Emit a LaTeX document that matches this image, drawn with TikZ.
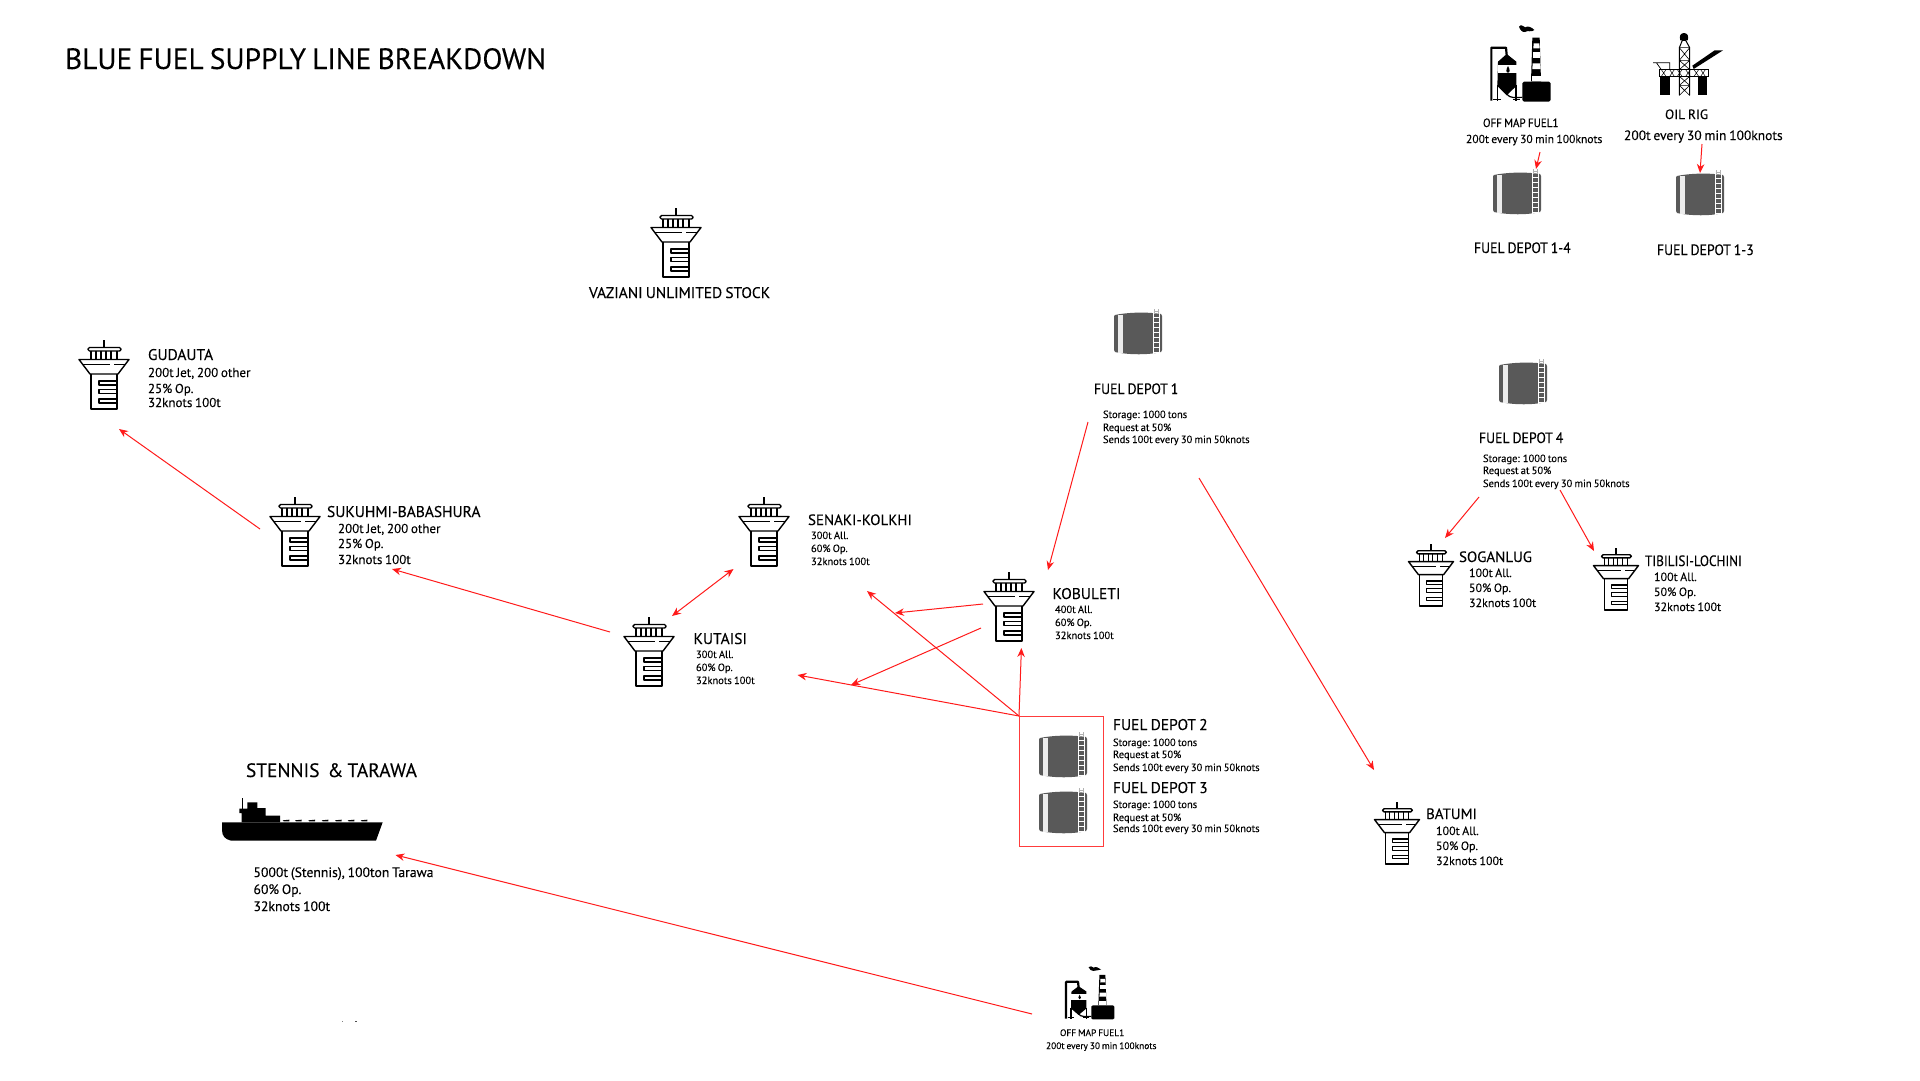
\documentclass[tikz,border=0pt]{standalone}
\usepackage{fontspec}
\setmainfont[WordSpace=0.78,FakeBold=0.12]{PT Sans}
\usetikzlibrary{arrows.meta}
\definecolor{tankgray}{HTML}{595959}
\definecolor{flowred}{HTML}{FF1A1A}
\newcommand{\lbl}[5]{\node[txt,font=\fontsize{#4}{#4}\selectfont] (#1) at (#2,#3) {#5};}
\newcommand{\nar}[1]{{\addfontfeature{FakeStretch=0.92}#1}}
\newcommand{\narr}[1]{{\addfontfeature{FakeStretch=0.88}#1}}
\tikzset{
  txt/.style={anchor=base west,inner sep=0pt,outer sep=0pt,text=black},
  flow/.style={draw=flowred,line width=1pt,-{Stealth[length=9pt,width=7.5pt]}},
  flowboth/.style={draw=flowred,line width=1pt,{Stealth[length=9pt,width=7.5pt]}-{Stealth[length=9pt,width=7.5pt]}},
  towericon/.pic={
    \begin{scope}[line width=1.2pt,line join=round]
      \draw (0,0)--(0,7);
      \draw[rounded corners=1.5pt,line width=1.4pt] (-16,7.5) rectangle (17,11);
      \draw (-13,11)--(-13,19) (13,11)--(13,19) (-8,11)--(-8,19) (-3,11)--(-3,19) (2,11)--(2,19) (7,11)--(7,19);
      \draw[line width=1.4pt] (-25,19.5)--(25,19.5)--(14,34)--(-14,34)--cycle;
      \draw[line width=0.9pt] (-21,24.5)--(6,24.5) (10,24.5)--(21,24.5);
      \draw[line width=1.4pt] (-13,34)--(-13,69)--(13,69)--(13,34);
      \draw (13,41)--(-5,41)--(-5,45)--(13,45);
      \draw (13,49.5)--(-5,49.5)--(-5,53.5)--(13,53.5);
      \draw (13,59)--(-5,59)--(-5,63)--(13,63);
    \end{scope}
  },
  tankicon/.pic={
    \fill[tankgray] (1,3) .. controls (15,0) and (35,0) .. (47,2) -- (48,4) -- (48,38) -- (47,40) .. controls (35,43) and (15,43) .. (1,40) -- (0,38) -- (0,4) -- cycle;
    \fill[gray!15] (3.5,2.5) rectangle (8.5,40.5);
    \draw[white,line width=0.9pt] (39.5,1) -- (39.5,42) (45,1) -- (45,42);
    \foreach \yy in {5,10,15,20,25,30,35,40} {\draw[white,line width=1pt] (39.5,\yy) -- (45,\yy);}
    \draw[gray!60,line width=0.9pt] (40,-3) -- (40,2) (44.5,-3) -- (44.5,2) (40,-1) -- (44.5,-1);
  },
  refineryicon/.pic={
    \begin{scope}[shift={(-150,-45)}]
      \draw[line width=2.2pt,line join=round] (154,272) -- (154,113) -- (198,113) -- (200,135);
      \fill (200,132) -- (174,155) -- (172,228) -- (200,256) -- (229,228) -- (229,155) -- cycle;
      \fill[white] (173,166) rectangle (230,190);
      \fill (204,168) .. controls (198,178) and (197,188) .. (204,188) .. controls (211,188) and (210,178) .. (204,168) -- cycle;
      \draw[line width=1.2pt] (172,225) -- (172,272) (228,225) -- (228,272) (160,268) -- (182,268) (218,268) -- (240,268);
      \draw[line width=1.2pt] (200,252) .. controls (210,266) and (225,262) .. (247,262);
      \fill (277,83) -- (299,83) -- (303,214) -- (273,214) -- cycle;
      \fill[white] (281,100) -- (298,100) -- (299,115) -- (280,115) -- cycle;
      \fill[white] (279,127) -- (300,127) -- (300,143) -- (279,143) -- cycle;
      \fill[white] (278,160) -- (301,160) -- (302,177) -- (277,177) -- cycle;
      \fill[white] (276,197) -- (302,197) -- (302,212) -- (276,212) -- cycle;
      \fill (252,215) -- (327,215) -- (332,220) -- (332,270) -- (327,275) -- (252,275) -- (247,270) -- (247,220) -- cycle;
      \fill (237,50) .. controls (242,42) and (250,48) .. (256,52) .. controls (262,46) and (276,52) .. (283,60) .. controls (275,68) and (262,60) .. (255,66) .. controls (248,68) and (240,60) .. (237,50) -- cycle;
    \end{scope}
  },
  rigicon/.pic={
    \begin{scope}[shift={(-640,-68)}]
      \fill (733,68) .. controls (722,68) and (718,78) .. (722,90) -- (744,90) .. controls (748,78) and (744,68) .. (733,68) -- cycle;
      \draw[line width=1pt] (719,255) -- (719,112) -- (728,90) -- (738,90) -- (750,112) -- (750,255);
      \draw[line width=0.6pt] (719,112) -- (750,112) (719,112) -- (750,150) (750,112) -- (719,150) (719,150) -- (750,150) (719,150) -- (750,178) (750,150) -- (719,178) (719,198) -- (750,225) (750,198) -- (719,225) (719,225) -- (750,255) (750,225) -- (719,255) (719,225) -- (750,225);
      \fill (762,176) -- (850,120) -- (825,120) -- (758,166) -- cycle;
      \draw[line width=0.7pt] (640,157) -- (690,157) -- (690,178) (650,157) -- (665,178);
      \draw[line width=0.9pt] (660,178) rectangle (805,198);
      \foreach \xx in {672,697,720,745,770,790} {\draw[line width=0.5pt] (\xx-7,178) -- (\xx+7,198) (\xx+7,178) -- (\xx-7,198);}
      \fill (662,198) rectangle (690,255);
      \fill (775,198) rectangle (803,255);
    \end{scope}
  },
  shipicon/.pic={
    \begin{scope}[shift={(-66,-55)}]
      \fill (66,128) -- (548,128) -- (528,183) -- (93,183) .. controls (75,178) and (66,170) .. (66,150) -- cycle;
      \fill (125,128) -- (125,100) -- (118,100) -- (118,87) -- (142,87) -- (142,68) -- (172,68) -- (172,85) -- (197,85) -- (197,108) -- (240,108) -- (240,128) -- cycle;
      \draw[line width=0.6pt] (128,55) -- (128,100);
      \foreach \xx in {248,285,325,365,405,443,482} {\fill (\xx,122) -- (\xx+20,120) -- (\xx+20,125) -- (\xx+3,125) -- cycle;}
    \end{scope}
  }
}
\begin{document}
\begin{tikzpicture}[x=1pt,y=-1pt]
\useasboundingbox (0,0) rectangle (1920,1080);
% towers
\foreach \tx/\ty in {104/340,676/208,295/497,764/497,649/617,1009/572}{
  \pic at (\tx,\ty) {towericon};
}
\foreach \tx/\ty in {1431/544,1616/548,1397/802}{
  \pic[scale=0.9] at (\tx,\ty) {towericon};
}
% tanks
\foreach \tx/\ty in {1114/312,1499/362,1493/172,1676/173,1039/735,1039/791}{
  \pic at (\tx,\ty) {tankicon};
}
\pic[scale=1/3] at (1490,25) {refineryicon};
\pic[xscale=0.271,yscale=0.232] at (1065,966) {refineryicon};
\pic[scale=1/3] at (1653,33) {rigicon};
\pic[scale=1/3] at (222,798) {shipicon};
% specks
\fill[gray] (341.5,1020.5) rectangle (343,1022);
\fill[black!70] (355,1020.5) rectangle (357,1022);
% texts
\lbl{title}{65}{69}{29.4}{BLUE FUEL SUPPLY LINE BREAKDOWN}
\lbl{vaz}{589}{298}{15.4}{VAZIANI UNLIMITED STOCK}
\lbl{gud}{148}{360}{15.5}{GUDAUTA}
\lbl{gudb}{148}{377}{13}{200t Jet, 200 other}
\lbl{gudc}{148}{393}{13}{25\% Op.}
\lbl{gudd}{148}{407}{13}{32knots 100t}
\lbl{suk}{327}{517}{15.5}{SUKUHMI-BABASHURA}
\lbl{sukb}{338}{533}{13}{200t Jet, 200 other}
\lbl{sukc}{338}{548}{13}{25\% Op.}
\lbl{sukd}{338}{564}{13}{32knots 100t}
\lbl{sen}{808}{525}{15}{SENAKI-KOLKHI}
\lbl{senb}{811}{539}{10.5}{300t All.}
\lbl{senc}{811}{552}{10.5}{60\% Op.}
\lbl{send}{811}{565}{10.5}{32knots 100t}
\lbl{kut}{693.5}{644}{15.5}{KUTAISI}
\lbl{kutb}{696}{658}{10.5}{300t All.}
\lbl{kutc}{696}{671}{10.5}{60\% Op.}
\lbl{kutd}{696}{684}{10.5}{32knots 100t}
\lbl{kob}{1052.5}{599}{15.5}{KOBULETI}
\lbl{kobb}{1055}{613}{10.5}{400t All.}
\lbl{kobc}{1055}{626}{10.5}{60\% Op.}
\lbl{kobd}{1055}{639}{10.5}{32knots 100t}
\lbl{dtwo}{1113}{730}{15.5}{FUEL DEPOT 2}
\lbl{dtwob}{1113}{746}{10.5}{Storage: 1000 tons}
\lbl{dtwoc}{1113}{758}{10.5}{Request at 50\%}
\lbl{dtwod}{1113}{771}{10.5}{Sends 100t every 30 min 50knots}
\lbl{dthree}{1113}{793}{15.5}{FUEL DEPOT 3}
\lbl{dthreeb}{1113}{808}{10.5}{Storage: 1000 tons}
\lbl{dthreec}{1113}{821}{10.5}{Request at 50\%}
\lbl{dthreed}{1113}{832}{10.5}{Sends 100t every 30 min 50knots}
\lbl{done}{1094}{394}{15}{\nar{FUEL DEPOT 1}}
\lbl{doneb}{1103}{418}{10.5}{Storage: 1000 tons}
\lbl{donec}{1103}{431}{10.5}{Request at 50\%}
\lbl{doned}{1103}{443}{10.5}{Sends 100t every 30 min 50knots}
\lbl{dfour}{1479}{443}{15}{\nar{FUEL DEPOT 4}}
\lbl{dfourb}{1483}{462}{10.5}{Storage: 1000 tons}
\lbl{dfourc}{1483}{474}{10.5}{Request at 50\%}
\lbl{dfourd}{1483}{487}{10.5}{Sends 100t every 30 min 50knots}
\lbl{sog}{1459}{562}{15}{SOGANLUG}
\lbl{sogb}{1469}{577}{12}{100t All.}
\lbl{sogc}{1469}{592}{12}{50\% Op.}
\lbl{sogd}{1469}{607}{12}{32knots 100t}
\lbl{tib}{1645}{566}{15}{\narr{TIBILISI-LOCHINI}}
\lbl{tibb}{1654}{581}{12}{100t All.}
\lbl{tibc}{1654}{596}{12}{50\% Op.}
\lbl{tibd}{1654}{611}{12}{32knots 100t}
\lbl{bat}{1426}{819}{15}{BATUMI}
\lbl{batb}{1436}{835}{12}{100t All.}
\lbl{batc}{1436}{850}{12}{50\% Op.}
\lbl{batd}{1436}{865}{12}{32knots 100t}
\lbl{ste}{246}{777}{19.4}{STENNIS\ \ \&\ TARAWA}
\lbl{steb}{253.5}{877}{13.7}{5000t (Stennis), 100ton Tarawa}
\lbl{stec}{253.5}{894}{13.7}{60\% Op.}
\lbl{sted}{253.5}{911}{13.7}{32knots 100t}
\lbl{omf}{1483}{127}{12}{\nar{OFF MAP FUEL1}}
\lbl{omfb}{1466}{143}{11.6}{200t every 30 min 100knots}
\lbl{rig}{1665}{119}{13.5}{OIL RIG}
\lbl{rigb}{1624}{140}{13.5}{200t every 30 min 100knots}
\lbl{dfourteen}{1474}{253}{15}{\nar{FUEL DEPOT 1-4}}
\lbl{dthirteen}{1657}{255}{15}{\nar{FUEL DEPOT 1-3}}
\lbl{omg}{1060}{1036}{9.4}{OFF MAP FUEL1}
\lbl{omgb}{1046}{1049}{9.4}{200t every 30 min 100knots}
% connector ends
\coordinate (a1) at (260,529); \coordinate (a2) at (119,429);
\coordinate (b1) at (610,632); \coordinate (b2) at (392,569);
\coordinate (c1) at (672,616); \coordinate (c2) at (733.5,569);
\coordinate (d1) at (983,604); \coordinate (d2) at (895,613);
\coordinate (e1) at (981,628); \coordinate (e2) at (851,685);
\coordinate (boxc) at (1019,716);
\coordinate (f2) at (867,591);
\coordinate (g2) at (797.5,675);
\coordinate (h2) at (1021.4,648);
\coordinate (i1) at (1088,422); \coordinate (i2) at (1048,570);
\coordinate (j1) at (1199,478); \coordinate (j2) at (1374,770);
\coordinate (k1) at (1479,497); \coordinate (k2) at (1445,538);
\coordinate (l1) at (1560,490); \coordinate (l2) at (1594,551);
\coordinate (m1) at (1540,152); \coordinate (m2) at (1536,169);
\coordinate (n1) at (1702,144); \coordinate (n2) at (1700,173);
\coordinate (o1) at (1032,1014); \coordinate (o2) at (395.5,855);
\coordinate (boxd) at (1103,846);
\draw[draw=flowred!85,line width=1pt] (boxc) rectangle (boxd);
\draw[flow] (a1) -- (a2);
\draw[flow] (b1) -- (b2);
\draw[flowboth] (c1) -- (c2);
\draw[flow] (d1) -- (d2);
\draw[flow] (e1) -- (e2);
\draw[flow] (boxc) -- (f2);
\draw[flow] (boxc) -- (g2);
\draw[flow] (boxc) -- (h2);
\draw[flow] (i1) -- (i2);
\draw[flow] (j1) -- (j2);
\draw[flow] (k1) -- (k2);
\draw[flow] (l1) -- (l2);
\draw[flow] (m1) -- (m2);
\draw[flow] (n1) -- (n2);
\draw[flow] (o1) -- (o2);
\end{tikzpicture}
\end{document}
